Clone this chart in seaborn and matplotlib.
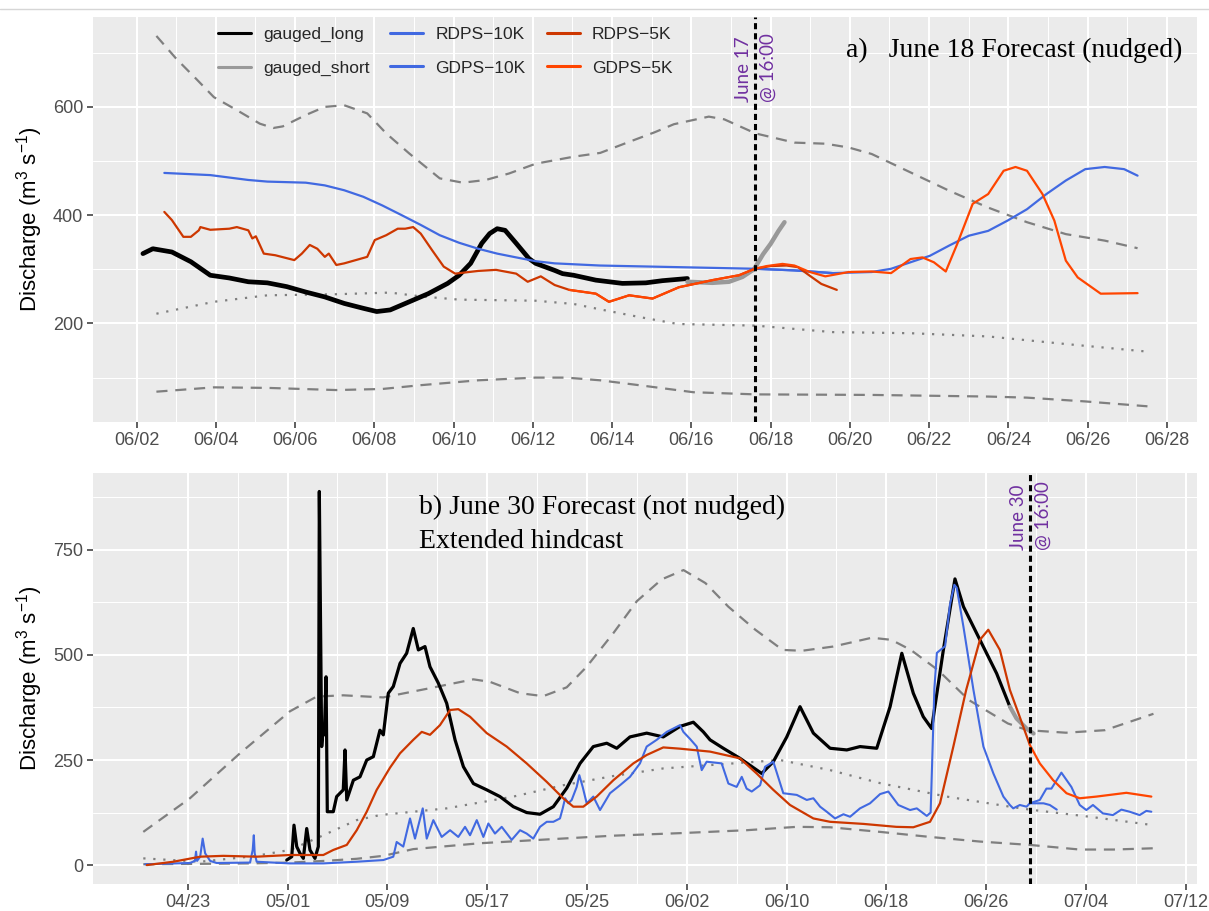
import numpy as np
import pandas as pd
import matplotlib
matplotlib.use("Agg")
import matplotlib.pyplot as plt
import matplotlib.dates as mdates
from matplotlib.lines import Line2D
from matplotlib.ticker import FixedLocator
from matplotlib.transforms import offset_copy
import seaborn as sns

# ------------------------------------------------------------------
# Panel a) June 18 forecast (nudged); time = day of June
# ------------------------------------------------------------------
a_origin = "2021-05-31"

a_qhigh_t = [2.5, 3.0, 3.5, 3.95, 4.53, 5.11, 5.45, 5.69, 6.27, 6.75, 7.24, 7.82, 8.3, 8.88,
             9.65, 10.23, 10.81, 11.4, 12.07, 13.03, 13.7, 14.38, 15.07, 15.56, 16.44, 16.83,
             17.62, 18.6, 19.38, 19.97, 20.55, 21.53, 22.51, 23.49, 24.47, 25.45, 26.43, 27.26]
a_qhigh_v = [731, 689, 652, 618, 594, 569, 561, 564, 585, 600, 603, 588, 551, 514,
             468, 460, 465, 477, 495, 508, 515, 534, 553, 568, 582, 577,
             551, 534, 532, 525, 513, 479, 445, 414, 387, 365, 353, 339]

a_qmed_t = [2.5, 3.95, 5.3, 7.04, 8.4, 9.17, 10.14, 12.07, 13.03, 13.7, 14.68, 15.66,
            17.62, 19.57, 21.53, 23.49, 25.45, 27.51]
a_qmed_v = [218, 240, 252, 254, 257, 250, 244, 242, 236, 226, 212, 199,
            196, 184, 182, 176, 162, 148]

a_qlow_t = [2.5, 3.95, 5.3, 7.04, 8.2, 9.17, 10.62, 12.07, 12.84, 13.7, 14.68, 16.05,
            17.62, 20.55, 23.49, 24.47, 25.94, 27.51]
a_qlow_v = [74, 82, 81, 77, 79, 86, 95, 100, 100, 95, 86, 73,
            69, 68, 65, 63, 56, 47]

a_long_t = [2.16, 2.41, 2.89, 3.37, 3.86, 4.34, 4.82, 5.3, 5.79, 6.27, 6.75, 7.24, 7.72,
            8.06, 8.4, 8.88, 9.36, 9.85, 10.14, 10.43, 10.71, 10.91, 11.1, 11.3, 11.58,
            11.9, 12.07, 12.55, 12.75, 13.03, 13.59, 14.26, 14.85, 15.27, 15.9]
a_long_v = [329, 338, 332, 314, 289, 284, 277, 275, 268, 258, 249, 237, 228,
            222, 225, 240, 255, 274, 289, 311, 348, 366, 375, 372, 348,
            320, 311, 298, 292, 289, 280, 274, 275, 279, 283]

a_short_t = [15.9, 16.53, 16.95, 17.29, 17.58, 17.81, 18.0, 18.2, 18.35]
a_short_v = [277, 275, 277, 286, 300, 328, 347, 371, 387]

a_rdps10_t = [2.7, 3.86, 4.82, 5.3, 6.27, 6.75, 7.24, 7.72, 8.2, 8.69, 9.17, 9.65, 10.14,
              10.62, 11.1, 11.58, 12.07, 12.55, 13.69, 15.66, 17.62, 18.6, 19.57]
a_rdps10_v = [478, 474, 465, 462, 460, 455, 446, 434, 418, 400, 382, 363, 349,
              338, 329, 322, 315, 311, 307, 304, 301, 298, 293]

a_gdps10_t = [17.62, 18.6, 19.57, 20.55, 21.04, 21.53, 22.02, 22.51, 23.0, 23.49, 23.98,
              24.47, 24.96, 25.45, 25.94, 26.43, 26.92, 27.26]
a_gdps10_v = [301, 298, 293, 295, 301, 313, 325, 344, 362, 371, 390,
              411, 439, 464, 485, 489, 485, 473]

a_rdps5_t = [2.7, 2.89, 3.18, 3.37, 3.57, 3.61, 3.86, 4.34, 4.53, 4.82, 4.92, 5.01, 5.21,
             5.5, 5.98, 6.17, 6.37, 6.56, 6.75, 6.85, 7.04, 7.24, 7.82, 8.01, 8.3, 8.59,
             8.78, 8.98, 9.17, 9.46, 9.75, 10.04, 10.62, 11.07, 11.58, 11.87, 12.2, 12.55,
             12.92, 13.59, 13.92, 14.43, 15.02, 15.69, 16.53, 17.2, 17.6, 18.0, 18.4,
             18.69, 18.99, 19.28, 19.67]
a_rdps5_v = [406, 391, 360, 360, 372, 378, 373, 375, 378, 372, 357, 361, 329,
             326, 317, 329, 345, 338, 323, 329, 308, 311, 323, 354, 363, 375,
             375, 378, 366, 335, 305, 292, 297, 299, 292, 277, 287, 271,
             262, 255, 240, 252, 246, 267, 280, 289, 301, 306, 307,
             304, 288, 273, 262]

a_gdps5_t = [12.92, 13.59, 13.92, 14.43, 15.02, 15.69, 16.53, 17.2, 17.6, 17.9, 18.3, 18.6,
             18.99, 19.38, 19.97, 20.55, 21.04, 21.53, 21.83, 22.12, 22.42, 22.71, 23.1,
             23.49, 23.88, 24.18, 24.47, 24.86, 25.16, 25.45, 25.75, 26.33, 27.26]
a_gdps5_v = [262, 255, 240, 252, 246, 267, 280, 289, 301, 306, 310, 307,
             295, 287, 295, 296, 293, 319, 322, 313, 296, 347, 421,
             439, 482, 489, 482, 439, 390, 316, 285, 255, 256]

a_issue = 17.6
a_ticks = ["06-02", "06-04", "06-06", "06-08", "06-10", "06-12", "06-14",
           "06-16", "06-18", "06-20", "06-22", "06-24", "06-26", "06-28"]

# ------------------------------------------------------------------
# Panel b) June 30 forecast (not nudged); time = day of May
# ------------------------------------------------------------------
b_origin = "2021-04-30"

b_qhigh_t = [-10.56, -6.82, -2.81, 1.2, 3.34, 5.47, 8.68, 12.42, 15.9, 17.23, 19.64, 21.5,
             23.38, 24.98, 27.12, 29.0, 31.0, 32.74, 34.5, 36.33, 38.5, 40.68, 42.24, 44.73,
             47.84, 49.4, 50.96, 53.14, 55.6, 58.74, 60.3, 63.4, 66.52, 70.41]
b_qhigh_v = [79, 159, 266, 366, 401, 404, 399, 421, 442, 436, 409, 402,
             423, 472, 552, 628, 680, 702, 671, 615, 560, 512, 510, 520,
             541, 536, 512, 464, 393, 337, 321, 315, 321, 360]

b_qmed_t = [-10.56, -6.0, -1.74, 1.2, 3.87, 6.55, 8.41, 13.76, 19.1, 23.1, 27.12, 31.12,
            34.87, 40.48, 44.49, 48.5, 53.84, 58.9, 60.5, 65.3, 70.4]
b_qmed_v = [16, 8, 21, 36, 71, 107, 119, 135, 163, 190, 212, 230,
            238, 250, 226, 195, 163, 139, 132, 115, 95]

b_qlow_t = [-10.56, -6.0, -2.0, 1.2, 4.0, 6.55, 8.68, 11.08, 16.43, 21.78, 27.12, 32.46,
            37.8, 41.82, 44.49, 48.5, 52.5, 56.5, 60.5, 64.5, 67.2, 70.4]
b_qlow_v = [2, 3, 4, 6, 10, 15, 22, 38, 52, 61, 70, 76,
            83, 91, 90, 79, 67, 56, 48, 37, 37, 40]

b_long_t = [0.94, 1.34, 1.52, 1.74, 2.0, 2.27, 2.54, 2.8, 3.2, 3.47, 3.55, 3.74, 3.87, 3.95,
            4.09, 4.19, 4.67, 4.94, 5.47, 5.61, 5.75, 6.28, 6.81, 7.35, 7.88, 8.41, 8.68,
            9.08, 9.48, 10.02, 10.55, 11.08, 11.49, 12.02, 12.42, 13.09, 13.76, 14.43, 15.1,
            15.9, 16.97, 18.03, 19.1, 20.17, 21.24, 22.31, 23.38, 24.45, 25.51, 26.59,
            27.39, 28.45, 29.79, 31.12, 32.46, 33.53, 34.33, 34.87, 35.93, 37.27, 39.01,
            39.94, 41.02, 42.08, 43.15, 44.49, 45.83, 46.89, 48.23, 49.3, 50.24, 51.16,
            51.96, 52.63, 53.57, 54.5, 55.18, 56.5, 57.84, 58.9]
b_long_v = [12, 20, 95, 44, 28, 16, 87, 36, 16, 44, 889, 282, 329, 310,
            448, 127, 127, 163, 179, 274, 155, 202, 210, 250, 258, 321, 310,
            409, 425, 480, 504, 563, 512, 520, 472, 433, 385, 298, 234,
            194, 179, 163, 139, 125, 121, 139, 183, 242, 282, 290,
            278, 305, 314, 305, 330, 340, 317, 298, 278, 254, 218,
            246, 305, 377, 314, 278, 274, 282, 278, 377, 504, 409,
            353, 325, 512, 681, 615, 536, 456, 377]

b_short_t = [58.9, 59.43, 60.24, 60.8]
b_short_v = [377, 349, 325, 313]

b_rdps10_t = [-10.4, -6.82, -6.42, -6.33, -6.25, -6.0, -5.8, -5.6, -5.2, -4.68, -2.0, -1.79,
              -1.7, -1.63, -1.47, 1.2, 3.87, 6.55, 8.68, 9.48, 9.75, 10.28, 10.82, 11.22,
              11.84, 12.16, 12.69, 13.36, 14.03, 14.69, 15.23, 15.63, 16.17, 16.7, 17.1,
              17.63, 18.17, 18.97, 19.64, 20.17, 20.7, 21.24, 21.78, 22.31, 22.84, 23.06,
              23.25, 23.51, 23.78, 24.18, 24.39, 24.66, 24.98, 25.51, 26.05, 26.85, 27.65,
              28.45, 29.25, 29.79, 30.59, 31.4, 31.93, 32.46, 32.73, 33.27, 33.8, 34.2,
              34.6, 35.8, 36.34, 37.0, 37.41, 37.8, 38.21, 38.88, 39.28, 39.94, 40.74,
              41.82, 42.62, 43.15, 43.69, 44.22, 44.89, 45.56, 46.09, 46.89, 47.69, 48.5,
              49.16, 49.96, 50.9, 51.44, 52.24, 52.55, 52.85, 53.05, 53.71, 54.1, 54.45,
              54.64, 55.18, 55.98, 56.78, 57.58, 58.38, 58.9, 59.17, 59.7, 60.24, 60.5,
              61.6, 62.1, 62.66]
b_rdps10_v = [2, 5, 10, 32, 10, 20, 63, 28, 10, 5, 6, 36,
              71, 28, 8, 4, 4, 8, 12, 20, 55, 44, 111, 63,
              135, 63, 107, 67, 83, 67, 91, 71, 107, 67, 99,
              75, 91, 60, 83, 75, 63, 91, 103, 103, 111, 135,
              159, 147, 155, 186, 214, 186, 147, 163, 131, 171, 190,
              210, 242, 282, 298, 317, 325, 333, 317, 300, 282, 226,
              246, 242, 194, 186, 210, 182, 175, 190, 234, 246, 171,
              167, 155, 159, 139, 127, 111, 121, 115, 135, 147, 169,
              175, 143, 131, 135, 117, 125, 420, 505, 521, 620, 667,
              660, 567, 417, 282, 218, 163, 143, 135, 143, 139, 147,
              147, 143, 132]

b_gdps10_t = [60.5, 61.3, 61.83, 62.23, 63.03, 63.83, 64.5, 65.03, 65.56, 66.36, 67.16,
              67.84, 68.5, 69.3, 69.84, 70.24]
b_gdps10_v = [147, 155, 182, 182, 220, 186, 143, 131, 143, 123, 119,
              132, 127, 119, 129, 127]

b_rdps5_t = [-10.28, -8.15, -6.0, -4.15, -1.47, 1.2, 3.87, 4.67, 5.75, 6.55, 7.35, 8.15,
             9.22, 10.02, 11.08, 11.76, 12.42, 13.22, 14.03, 14.69, 15.63, 16.97, 18.57,
             20.17, 21.78, 23.1, 23.91, 24.71, 25.78, 27.12, 28.72, 29.79, 31.12, 32.46,
             34.87, 37.27, 38.6, 39.94, 41.28, 43.15, 44.49, 47.16, 49.8, 51.16, 52.5,
             53.3, 54.37, 55.4, 56.5, 57.17, 58.1, 58.9, 59.7, 60.5]
b_rdps5_v = [0, 8, 20, 22, 20, 24, 24, 36, 48, 83, 127, 179,
             232, 266, 298, 317, 310, 333, 369, 371, 353, 314, 282,
             242, 198, 159, 139, 139, 163, 202, 242, 262, 280, 277,
             270, 254, 218, 179, 143, 111, 103, 98, 91, 90, 103,
             147, 282, 417, 536, 560, 512, 417, 352, 286]

b_gdps5_t = [60.5, 61.3, 62.37, 63.44, 64.5, 65.84, 68.24, 70.24]
b_gdps5_v = [286, 242, 202, 171, 159, 163, 172, 163]

b_issue = 60.5
b_ticks = ["04-23", "05-01", "05-09", "05-17", "05-25", "06-02",
           "06-10", "06-18", "06-26", "07-04", "07-12"]

# ------------------------------------------------------------------
# Style
# ------------------------------------------------------------------
sns.set_theme(style="darkgrid")
sns.set_style("darkgrid", {"axes.facecolor": "#EBEBEB", "grid.color": "white"})
plt.rcParams["font.family"] = ["Liberation Sans", "DejaVu Sans"]
plt.rcParams["mathtext.fontset"] = "custom"
plt.rcParams["mathtext.rm"] = "Liberation Sans"
plt.rcParams["mathtext.it"] = "Liberation Sans:italic"

C_LONG = "black"
C_SHORT = "#999999"
C_RDPS10 = "#4169E1"
C_GDPS10 = "#4169E1"
C_RDPS5 = "#CD3700"
C_GDPS5 = "#FF4500"
C_CLIM = "#7F7F7F"
C_NOTE = "#7030A0"

DASH = (0, (5, 3.5))
DOT = (0, (1, 3.5))


def to_dates(origin, offsets):
    return pd.Timestamp(origin) + pd.to_timedelta(np.asarray(offsets, dtype=float), unit="D")


def draw(ax, origin, t, v, color, lw, ls="-", z=2):
    sns.lineplot(x=to_dates(origin, t), y=np.asarray(v, dtype=float), ax=ax, color=color,
                 linewidth=lw, linestyle=ls, estimator=None, sort=False, legend=False,
                 zorder=z)


def style_axis(ax, origin, xlim, ylim, xticks, yticks, yminor):
    ax.set_xlim(to_dates(origin, [xlim[0]])[0], to_dates(origin, [xlim[1]])[0])
    ax.set_ylim(*ylim)
    major = pd.to_datetime(["2021-" + s for s in xticks])
    minor = major[:-1] + (major[1:] - major[:-1]) / 2
    ax.xaxis.set_major_locator(FixedLocator(mdates.date2num(major)))
    ax.xaxis.set_minor_locator(FixedLocator(mdates.date2num(minor)))
    ax.xaxis.set_major_formatter(mdates.DateFormatter("%m/%d"))
    ax.yaxis.set_major_locator(FixedLocator(yticks))
    ax.yaxis.set_minor_locator(FixedLocator(yminor))
    ax.grid(which="major", color="white", linewidth=1.5)
    ax.grid(which="minor", color="white", linewidth=0.75)
    ax.set_axisbelow(True)
    for s in ax.spines.values():
        s.set_visible(False)
    ax.tick_params(which="major", length=4, width=1.1, color="#333333",
                   labelsize=13, labelcolor="#4D4D4D", pad=3,
                   bottom=True, left=True)
    ax.tick_params(which="minor", length=0)
    ax.set_xlabel("")
    ax.set_ylabel(r"Discharge (m$^{3}$ s$^{-1}$)", fontsize=16, color="black", labelpad=6)


def issue_marker(ax, when, y, day_text):
    ax.axvline(when, color="black", linewidth=2.2, linestyle=(0, (2, 1.3)), zorder=6)
    left = offset_copy(ax.transData, fig=ax.figure, x=-11, y=0, units="dots")
    right = offset_copy(ax.transData, fig=ax.figure, x=13, y=0, units="dots")
    ax.text(when, y, day_text, transform=left, rotation=90, ha="center", va="bottom",
            color=C_NOTE, fontsize=13.5, family="Lato")
    ax.text(when, y, "@ 16:00", transform=right, rotation=90, ha="center", va="bottom",
            color=C_NOTE, fontsize=13.5, family="Lato")


fig = plt.figure(figsize=(12.09, 9.11), dpi=100)
fig.add_artist(Line2D([0.0, 1.0], [1 - 9 / 911] * 2, transform=fig.transFigure,
                      color="#D6D6D6", linewidth=1))

ax_a = fig.add_axes([93 / 1209, 1 - 422 / 911, 1104 / 1209, 405 / 911])
ax_b = fig.add_axes([93 / 1209, 1 - 884 / 911, 1104 / 1209, 411 / 911])

# ---- panel a ----
draw(ax_a, a_origin, a_qhigh_t, a_qhigh_v, C_CLIM, 1.6, DASH)
draw(ax_a, a_origin, a_qlow_t, a_qlow_v, C_CLIM, 1.6, DASH)
draw(ax_a, a_origin, a_qmed_t, a_qmed_v, C_CLIM, 1.6, DOT)
draw(ax_a, a_origin, a_long_t, a_long_v, C_LONG, 3.4, z=3)
draw(ax_a, a_origin, a_short_t, a_short_v, C_SHORT, 3.2, z=3)
draw(ax_a, a_origin, a_rdps10_t, a_rdps10_v, C_RDPS10, 1.6, z=4)
draw(ax_a, a_origin, a_gdps10_t, a_gdps10_v, C_GDPS10, 1.6, z=4)
draw(ax_a, a_origin, a_rdps5_t, a_rdps5_v, C_RDPS5, 1.6, z=4)
draw(ax_a, a_origin, a_gdps5_t, a_gdps5_v, C_GDPS5, 1.6, z=5)
style_axis(ax_a, a_origin, (0.9, 28.76), (18, 766), a_ticks, [200, 400, 600],
           [100, 300, 500, 700])

issue_marker(ax_a, to_dates(a_origin, [a_issue])[0], 609, "June 17")
ax_a.text(to_dates(a_origin, [19.91])[0], 705, "a)   June 18 Forecast (nudged)",
          family="Liberation Serif", fontsize=20, va="center", ha="left", color="black")

handles = [Line2D([], [], color=c, linewidth=2.2) for c in
           [C_LONG, C_SHORT, C_RDPS10, C_GDPS10, C_RDPS5, C_GDPS5]]
labels = ["gauged_long", "gauged_short", "RDPS\u221210K", "GDPS\u221210K",
          "RDPS\u22125K", "GDPS\u22125K"]
ax_a.legend(handles, labels, ncol=3, loc="upper left",
            bbox_to_anchor=(218 / 1209, 1 - 27 / 911), bbox_transform=fig.transFigure,
            frameon=False, fontsize=12.5, handlelength=1.9, handletextpad=0.7,
            columnspacing=1.2, labelspacing=1.05, borderpad=0, borderaxespad=0)

# ---- panel b ----
draw(ax_b, b_origin, b_qhigh_t, b_qhigh_v, C_CLIM, 1.6, DASH)
draw(ax_b, b_origin, b_qlow_t, b_qlow_v, C_CLIM, 1.6, DASH)
draw(ax_b, b_origin, b_qmed_t, b_qmed_v, C_CLIM, 1.6, DOT)
draw(ax_b, b_origin, b_long_t, b_long_v, C_LONG, 2.3, z=3)
draw(ax_b, b_origin, b_short_t, b_short_v, C_SHORT, 3.0, z=3)
draw(ax_b, b_origin, b_rdps10_t, b_rdps10_v, C_RDPS10, 1.5, z=4)
draw(ax_b, b_origin, b_gdps10_t, b_gdps10_v, C_GDPS10, 1.5, z=4)
draw(ax_b, b_origin, b_rdps5_t, b_rdps5_v, C_RDPS5, 1.6, z=4)
draw(ax_b, b_origin, b_gdps5_t, b_gdps5_v, C_GDPS5, 1.6, z=5)
style_axis(ax_b, b_origin, (-14.59, 73.9), (-45, 933), b_ticks, [0, 250, 500, 750],
           [125, 375, 625, 875])

issue_marker(ax_b, to_dates(b_origin, [b_issue])[0], 750, "June 30")
ax_b.text(to_dates(b_origin, [11.54])[0], 852, "b) June 30 Forecast (not nudged)",
          family="Liberation Serif", fontsize=20, va="center", ha="left", color="black")
ax_b.text(to_dates(b_origin, [11.54])[0], 769, "Extended hindcast",
          family="Liberation Serif", fontsize=20, va="center", ha="left", color="black")

fig.savefig("out.png", dpi=100)
